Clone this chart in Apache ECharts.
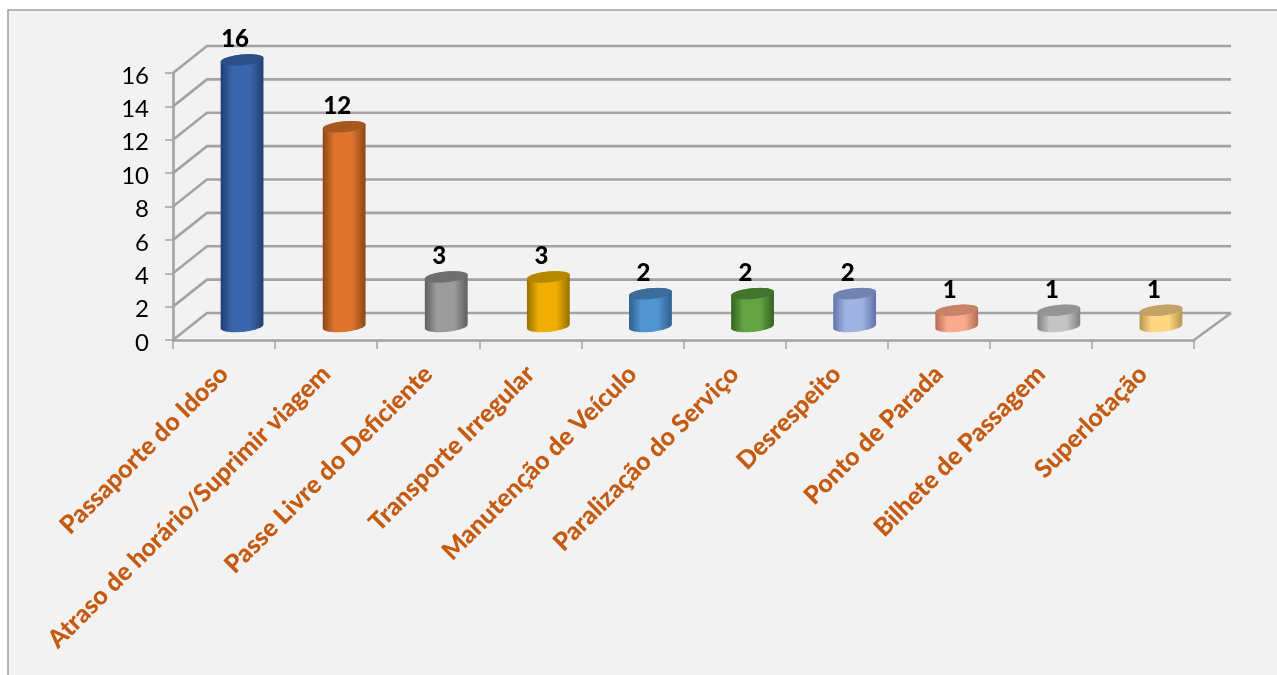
<!DOCTYPE html>
<html>
<head>
<meta charset="utf-8">
<style>html,body{margin:0;padding:0;background:#fff;overflow:hidden}#c{width:1277px;height:675px}</style>
<script src="https://cdn.jsdelivr.net/npm/echarts@6/dist/echarts.min.js"></script>
</head>
<body>
<div id="c"></div>
<script>
const categories = ["Passaporte do Idoso","Atraso de horário/Suprimir viagem","Passe Livre do Deficiente","Transporte Irregular","Manutenção de Veículo","Paralização do Serviço","Desrespeito","Ponto de Parada","Bilhete de Passagem","Superlotação"];
const values = [16,12,3,3,2,2,2,1,1,1];
const yTicks = [0,2,4,6,8,10,12,14,16];
const centerColors = ["#3a66ae","#df742c","#9c9c9c","#f0ae00","#5094d0","#65a344","#a0b2e2","#f9ab8d","#c4c4c4","#ffd782"];
const edgeColors = ["#223f70","#8c4716","#5f5f5f","#966e00","#2d5f8d","#33621f","#6072aa","#b76d52","#808080","#b79550"];
const topColors = ["#2c4f88","#a5591f","#6e6e6e","#b58600","#3a6c9c","#44752e","#7183b0","#c78268","#959595","#c4a166"];

const DEPTH_L = 34, DEPTH_R = 37, DEPTH_Y = 27, MID_X = 18, RX = 21.5, RY = 5.4, TILT = -5.5 * Math.PI / 180;
const GRID = '#a3a3a3';
const FONT = 'Lato, "Open Sans", sans-serif';

function ellipsePts(cx, cy, a0, a1, n) {
  const pts = [];
  for (let i = 0; i <= n; i++) {
    const t = a0 + (a1 - a0) * i / n;
    const x = RX * Math.cos(t), y = RY * Math.sin(t);
    pts.push([cx + x * Math.cos(TILT) - y * Math.sin(TILT), cy + x * Math.sin(TILT) + y * Math.cos(TILT)]);
  }
  return pts;
}

function renderWall(params, api) {
  const v = api.value(0);
  const size = api.size([1, 0])[0];
  const p = api.coord([0, v]);
  const left = p[0] - size / 2, right = left + size * categories.length, y = p[1];
  const ls = { stroke: GRID, lineWidth: 2.6, fill: null };
  const children = [{
    type: 'polyline',
    shape: { points: [[left, y], [left + DEPTH_L, y - DEPTH_Y], [right + DEPTH_R, y - DEPTH_Y]] },
    style: ls
  }];
  if (v === 0) children.push({
    type: 'line',
    shape: { x1: right, y1: y, x2: right + DEPTH_R, y2: y - DEPTH_Y },
    style: ls
  });
  return { type: 'group', children };
}

function renderCyl(params, api) {
  const i = api.value(0), v = api.value(1);
  const t = api.coord([i, v]), b = api.coord([i, 0]);
  const cx = t[0] + MID_X, ty = t[1] - DEPTH_Y / 2 + 0.5, by = b[1] - DEPTH_Y / 2;
  const lower = ellipsePts(cx, by, 0, Math.PI, 30);
  const topLine = ellipsePts(cx, ty, Math.PI, 2 * Math.PI, 30);
  const grad = {
    type: 'linear', x: 0, y: 0, x2: 1, y2: 0,
    colorStops: [
      { offset: 0, color: edgeColors[i] },
      { offset: 0.28, color: centerColors[i] },
      { offset: 0.68, color: centerColors[i] },
      { offset: 1, color: edgeColors[i] }
    ]
  };
  return {
    type: 'group',
    children: [
      { type: 'polygon', shape: { points: lower.concat(topLine) }, style: { fill: grad } },
      { type: 'polygon', shape: { points: ellipsePts(cx, ty, 0, 2 * Math.PI, 48) }, style: { fill: topColors[i] } },
      { type: 'text', style: {
          x: cx - 7, y: ty - 20.5, text: String(v), align: 'center', verticalAlign: 'middle',
          fontFamily: FONT, fontSize: 24, fontWeight: 900, fill: '#000'
      } }
    ]
  };
}

const chart = echarts.init(document.getElementById('c'), null, { renderer: 'canvas' });
chart.setOption({
  animation: false,
  backgroundColor: '#ffffff',
  graphic: [{
    type: 'rect', z: -10, silent: true,
    shape: { x: 8, y: 10, width: 1290, height: 680 },
    style: { fill: '#f2f2f2', stroke: '#a0a0a0', lineWidth: 1.5 }
  }],
  grid: { left: 173, right: 83, top: 73, bottom: 335, containLabel: false },
  xAxis: {
    type: 'category', data: categories, boundaryGap: true,
    axisLine: { show: true, lineStyle: { color: GRID, width: 2.6 } },
    axisTick: { show: true, alignWithLabel: false, length: 9, lineStyle: { color: GRID, width: 1.5 } },
    axisLabel: { interval: 0, rotate: 45, margin: 30, color: '#c55a11', fontSize: 25, fontWeight: 900, fontFamily: FONT },
    splitLine: { show: false }
  },
  yAxis: {
    type: 'value', min: 0, max: 16, interval: 2,
    axisLine: { show: true, lineStyle: { color: GRID, width: 2.6 } },
    axisTick: { show: true, length: 8, lineStyle: { color: GRID, width: 1.5 } },
    axisLabel: { margin: 24, color: '#000', fontSize: 24, fontFamily: FONT, verticalAlign: 'top', lineHeight: 6 },
    splitLine: { show: false }
  },
  series: [
    { type: 'custom', name: 'wall', z: 1, silent: true, clip: false, renderItem: renderWall,
      encode: { y: 0 }, data: yTicks.map(v => [v]) },
    { type: 'custom', name: 'cyl', z: 3, silent: true, clip: false, renderItem: renderCyl,
      encode: { x: 0, y: 1 }, data: values.map((v, i) => [i, v]) }
  ]
});
</script>
</body>
</html>
